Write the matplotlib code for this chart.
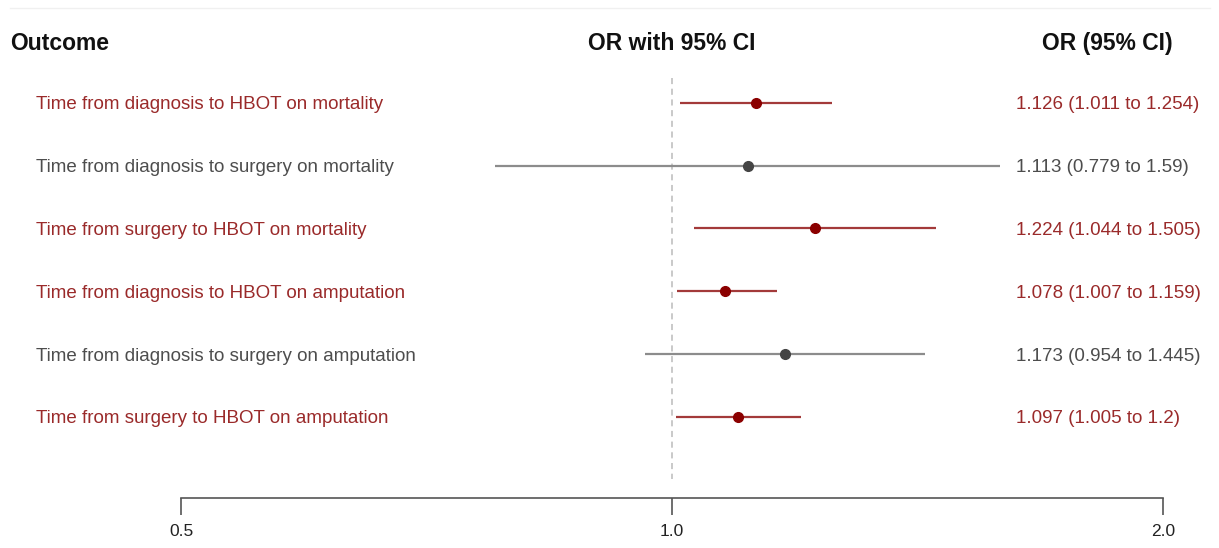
import numpy as np
import matplotlib.pyplot as plt
from matplotlib.transforms import blended_transform_factory

outcomes = [
    "Time from diagnosis to HBOT on mortality",
    "Time from diagnosis to surgery on mortality",
    "Time from surgery to HBOT on mortality",
    "Time from diagnosis to HBOT on amputation",
    "Time from diagnosis to surgery on amputation",
    "Time from surgery to HBOT on amputation",
]
or_est = [1.126, 1.113, 1.224, 1.078, 1.173, 1.097]
# interval ends as drawn in the picture
ci_low = [1.011, 0.779, 1.032, 1.007, 0.963, 1.005]
ci_high = [1.254, 1.59, 1.451, 1.159, 1.429, 1.2]
ci_text = [
    "1.126 (1.011 to 1.254)",
    "1.113 (0.779 to 1.59)",
    "1.224 (1.044 to 1.505)",
    "1.078 (1.007 to 1.159)",
    "1.173 (0.954 to 1.445)",
    "1.097 (1.005 to 1.2)",
]
significant = [True, False, True, True, False, True]
xticks = [0.5, 1.0, 2.0]
xtick_labels = ["0.5", "1.0", "2.0"]

RED_TXT = "#9a2a2a"
RED_LINE = "#a33a3a"
RED_DOT = "#8b0000"
GRAY_TXT = "#4d4d4d"
GRAY_LINE = "#8c8c8c"
GRAY_DOT = "#444444"

plt.rcParams['font.family'] = ['Liberation Sans', 'DejaVu Sans']

W, H = 1219, 548
fig = plt.figure(figsize=(W / 100, H / 100), dpi=100)
ax = fig.add_axes([181 / W, (H - 498) / H, 982 / W, 458 / H])
ax.set_xscale("log", base=2)
ax.set_xlim(0.5, 2.0)
ax.set_ylim(6.29, -1.0)

ypos = np.arange(len(outcomes))
for y, est, lo, hi, sig in zip(ypos, or_est, ci_low, ci_high, significant):
    ax.plot([lo, hi], [y, y], color=RED_LINE if sig else GRAY_LINE, lw=1.6,
            solid_capstyle="butt", clip_on=False, zorder=2)
    ax.plot(est, y, "o", color=RED_DOT if sig else GRAY_DOT, ms=7, zorder=3,
            clip_on=False)

ax.plot([1.0, 1.0], [-0.4, 5.99], color="#bbbbbb", lw=1.1, ls=(0, (4, 3)), zorder=1)

for s in ["top", "right", "left"]:
    ax.spines[s].set_visible(False)
ax.spines["bottom"].set_color("#555555")
ax.spines["bottom"].set_linewidth(1.2)
ax.set_yticks([])
ax.set_xticks(xticks)
ax.set_xticklabels(xtick_labels, fontsize=12.5, color="#222222")
ax.xaxis.set_minor_locator(plt.NullLocator())
ax.tick_params(axis="x", length=12, width=1.2, color="#555555", pad=7)

tr = blended_transform_factory(fig.transFigure, ax.transData)
for y, lab, txt, sig in zip(ypos, outcomes, ci_text, significant):
    c = RED_TXT if sig else GRAY_TXT
    ax.text(36 / W, y, lab, transform=tr, ha="left", va="center_baseline",
            fontsize=13.5, color=c)
    ax.text(1016 / W, y, txt, transform=tr, ha="left", va="center_baseline",
            fontsize=13.5, color=c)

ax.text(10 / W, -0.95, "Outcome", transform=tr, ha="left", va="center",
        fontsize=16.5, fontweight="bold", color="#111111")
ax.text(672 / W, -0.95, "OR with 95% CI", transform=tr, ha="center", va="center",
        fontsize=16.5, fontweight="bold", color="#111111")
ax.text(1107 / W, -0.95, "OR (95% CI)", transform=tr, ha="center", va="center",
        fontsize=16.5, fontweight="bold", color="#111111")

fig.add_artist(plt.Line2D([10 / W, 1210 / W], [1 - 8 / H, 1 - 8 / H],
                          transform=fig.transFigure, color="#f0f0f0", lw=1))

fig.savefig("out.png", dpi=100)
